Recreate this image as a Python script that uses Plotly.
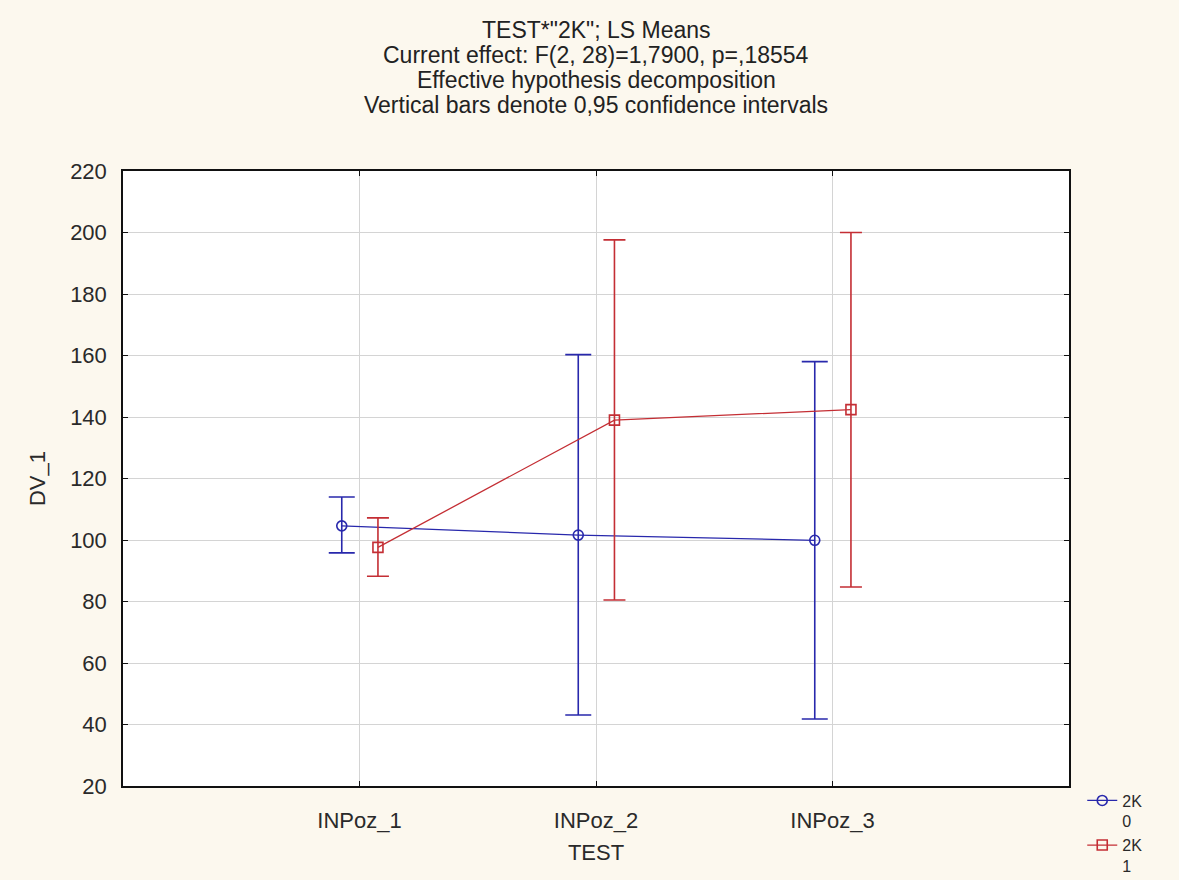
import plotly.graph_objects as go

# ---- data ----
categories = ["INPoz_1", "INPoz_2", "INPoz_3"]
title_lines = [
    'TEST*"2K"; LS Means',
    "Current effect: F(2, 28)=1,7900, p=,18554",
    "Effective hypothesis decomposition",
    "Vertical bars denote 0,95 confidence intervals",
]
series_names = ["2K<br>0", "2K<br>1"]
mean_2K0 = [104.6, 101.6, 99.9]
lower_2K0 = [95.8, 43.1, 41.8]
upper_2K0 = [114.0, 160.3, 158.0]
mean_2K1 = [97.6, 139.0, 142.4]
lower_2K1 = [88.2, 80.5, 84.7]
upper_2K1 = [107.2, 197.6, 200.0]
y_ticks = [20, 40, 60, 80, 100, 120, 140, 160, 180, 200, 220]

# ---- styles ----
BLUE = "#2828AC"
RED = "#C42E34"
BG = "#FCF8EE"
FONT = "Liberation Sans, Arial, sans-serif"
dodge = [-0.075, 0.078]

idx = list(range(len(categories)))

fig = go.Figure()
series = [
    (series_names[0], mean_2K0, lower_2K0, upper_2K0, BLUE, "circle-open", 13, dodge[0]),
    (series_names[1], mean_2K1, lower_2K1, upper_2K1, RED, "square-open", 11, dodge[1]),
]
for name, m, lo, hi, col, sym, capw, off in series:
    fig.add_trace(go.Scatter(
        x=[i + off for i in idx],
        y=m,
        name=name,
        mode="lines+markers",
        line=dict(color=col, width=1.3),
        marker=dict(symbol=sym, size=10, color=col, line=dict(color=col, width=1.6)),
        error_y=dict(
            type="data", symmetric=False,
            array=[h - v for h, v in zip(hi, m)],
            arrayminus=[v - l for v, l in zip(m, lo)],
            color=col, thickness=1.6, width=capw,
        ),
    ))

for k, t in enumerate(title_lines):
    fig.add_annotation(
        text=t, xref="paper", yref="paper", x=0.5, y=1 + (141 - 25 * k) / 615,
        yanchor="middle", xanchor="center", showarrow=False,
        font=dict(family=FONT, size=23, color="#222222"),
    )

fig.update_layout(
    width=1179, height=880,
    paper_bgcolor=BG, plot_bgcolor="#FFFFFF",
    margin=dict(l=123, r=110, t=171, b=94, autoexpand=False),
    font=dict(family=FONT, size=22, color="#2a2a2a"),
    showlegend=True,
    legend=dict(
        x=1.014, y=0.004, xanchor="left", yanchor="top",
        bgcolor="rgba(0,0,0,0)", font=dict(size=16, color="#2a2a2a"),
        tracegroupgap=0, itemwidth=30, valign="top",
    ),
)
fig.update_xaxes(
    range=[-1, 3], tickmode="array", tickvals=idx, ticktext=categories,
    showgrid=True, gridcolor="#D4D4D4", gridwidth=1,
    showline=True, linecolor="#111111", linewidth=1.5, mirror="ticks",
    ticks="inside", ticklen=5, tickcolor="#111111", ticklabelstandoff=14,
    tickfont=dict(size=22),
    zeroline=False,
    title=dict(text="TEST", font=dict(size=22), standoff=12),
)
fig.update_yaxes(
    range=[20, 220], tickmode="array", tickvals=y_ticks,
    showgrid=True, gridcolor="#D4D4D4", gridwidth=1,
    showline=True, linecolor="#111111", linewidth=1.5, mirror="ticks",
    ticks="inside", ticklen=5, tickcolor="#111111", ticklabelstandoff=10,
    tickfont=dict(size=22),
    zeroline=False,
    title=dict(text="DV_1", font=dict(size=22), standoff=18),
)

fig.write_html("out.html")
